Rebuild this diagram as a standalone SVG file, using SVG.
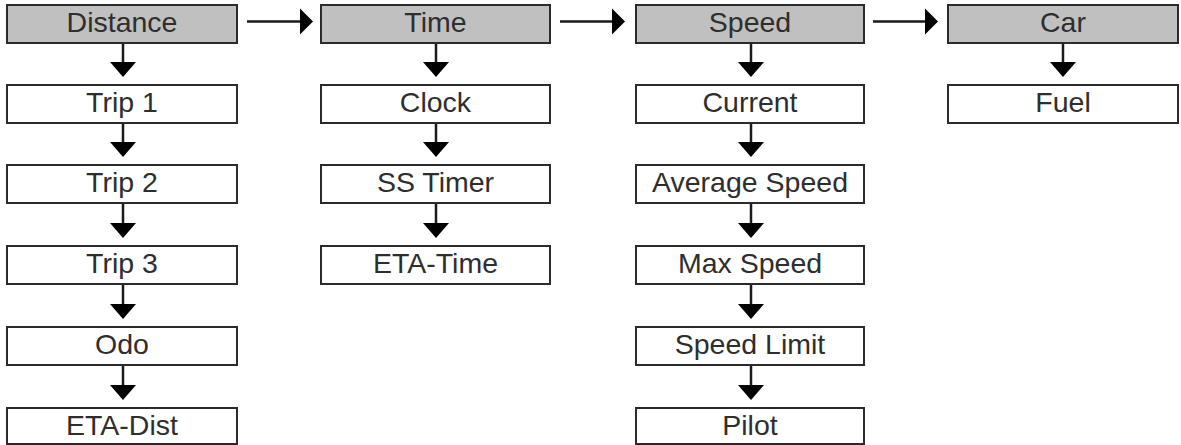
<svg xmlns="http://www.w3.org/2000/svg" width="1181" height="445" viewBox="0 0 1181 445">
<style>
.box{fill:#fff;stroke:#2b2b2b;stroke-width:2}
.hdr{fill:#c0c0c0;stroke:#2b2b2b;stroke-width:2}
text{font-family:"Liberation Sans",Arial,sans-serif;font-size:28.5px;fill:#2e2e2e;text-anchor:middle}
.ln{stroke:#1a1a1a;stroke-width:2.5;fill:none}
.hd{fill:#000}
</style>
<rect width="1181" height="445" fill="#fff"/>
<g id="connectors">
<!-- horizontal -->
<line class="ln" x1="247" y1="21.5" x2="301" y2="21.5"/><polygon class="hd" points="300,8.5 313,21.5 300,34.5"/>
<line class="ln" x1="560" y1="21.5" x2="613" y2="21.5"/><polygon class="hd" points="612,8.5 625,21.5 612,34.5"/>
<line class="ln" x1="873" y1="21.5" x2="926" y2="21.5"/><polygon class="hd" points="925,8.5 938,21.5 925,34.5"/>
<!-- column 1 -->
<line class="ln" x1="123" y1="43" x2="123" y2="63"/><polygon class="hd" points="110,62 136,62 123,77"/>
<line class="ln" x1="123" y1="123" x2="123" y2="143"/><polygon class="hd" points="110,142 136,142 123,157"/>
<line class="ln" x1="123" y1="203" x2="123" y2="224"/><polygon class="hd" points="110,223 136,223 123,238"/>
<line class="ln" x1="123" y1="284" x2="123" y2="305"/><polygon class="hd" points="110,304 136,304 123,319"/>
<line class="ln" x1="123" y1="365" x2="123" y2="386"/><polygon class="hd" points="110,385 136,385 123,400"/>
<!-- column 2 -->
<line class="ln" x1="436" y1="43" x2="436" y2="63"/><polygon class="hd" points="423,62 449,62 436,77"/>
<line class="ln" x1="436" y1="123" x2="436" y2="143"/><polygon class="hd" points="423,142 449,142 436,157"/>
<line class="ln" x1="436" y1="203" x2="436" y2="224"/><polygon class="hd" points="423,223 449,223 436,238"/>
<!-- column 3 -->
<line class="ln" x1="751" y1="43" x2="751" y2="63"/><polygon class="hd" points="738,62 764,62 751,77"/>
<line class="ln" x1="751" y1="123" x2="751" y2="143"/><polygon class="hd" points="738,142 764,142 751,157"/>
<line class="ln" x1="751" y1="203" x2="751" y2="224"/><polygon class="hd" points="738,223 764,223 751,238"/>
<line class="ln" x1="751" y1="284" x2="751" y2="305"/><polygon class="hd" points="738,304 764,304 751,319"/>
<line class="ln" x1="751" y1="365" x2="751" y2="386"/><polygon class="hd" points="738,385 764,385 751,400"/>
<!-- column 4 -->
<line class="ln" x1="1063" y1="43" x2="1063" y2="63"/><polygon class="hd" points="1050,62 1076,62 1063,77"/>
</g>
<g id="distance"><rect class="hdr" x="7" y="5" width="230" height="38"/><text x="122" y="32">Distance</text></g>
<g id="trip1"><rect class="box" x="7" y="85" width="230" height="38"/><text x="122" y="112">Trip 1</text></g>
<g id="trip2"><rect class="box" x="7" y="165" width="230" height="38"/><text x="122" y="192">Trip 2</text></g>
<g id="trip3"><rect class="box" x="7" y="246" width="230" height="38"/><text x="122" y="273">Trip 3</text></g>
<g id="odo"><rect class="box" x="7" y="327" width="230" height="38"/><text x="122" y="354">Odo</text></g>
<g id="eta-dist"><rect class="box" x="7" y="408" width="230" height="36"/><text x="122" y="435">ETA-Dist</text></g>
<g id="time"><rect class="hdr" x="321" y="5" width="229" height="38"/><text x="435.5" y="32">Time</text></g>
<g id="clock"><rect class="box" x="321" y="85" width="229" height="38"/><text x="435.5" y="112">Clock</text></g>
<g id="ss-timer"><rect class="box" x="321" y="165" width="229" height="38"/><text x="435.5" y="192">SS Timer</text></g>
<g id="eta-time"><rect class="box" x="321" y="246" width="229" height="38"/><text x="435.5" y="273">ETA-Time</text></g>
<g id="speed"><rect class="hdr" x="636" y="5" width="228" height="38"/><text x="750" y="32">Speed</text></g>
<g id="current"><rect class="box" x="636" y="85" width="228" height="38"/><text x="750" y="112">Current</text></g>
<g id="average-speed"><rect class="box" x="636" y="165" width="228" height="38"/><text x="750" y="192">Average Speed</text></g>
<g id="max-speed"><rect class="box" x="636" y="246" width="228" height="38"/><text x="750" y="273">Max Speed</text></g>
<g id="speed-limit"><rect class="box" x="636" y="327" width="228" height="38"/><text x="750" y="354">Speed Limit</text></g>
<g id="pilot"><rect class="box" x="636" y="408" width="228" height="36"/><text x="750" y="435">Pilot</text></g>
<g id="car"><rect class="hdr" x="948" y="5" width="230" height="38"/><text x="1063" y="32">Car</text></g>
<g id="fuel"><rect class="box" x="948" y="85" width="230" height="38"/><text x="1063" y="112">Fuel</text></g>
</svg>
